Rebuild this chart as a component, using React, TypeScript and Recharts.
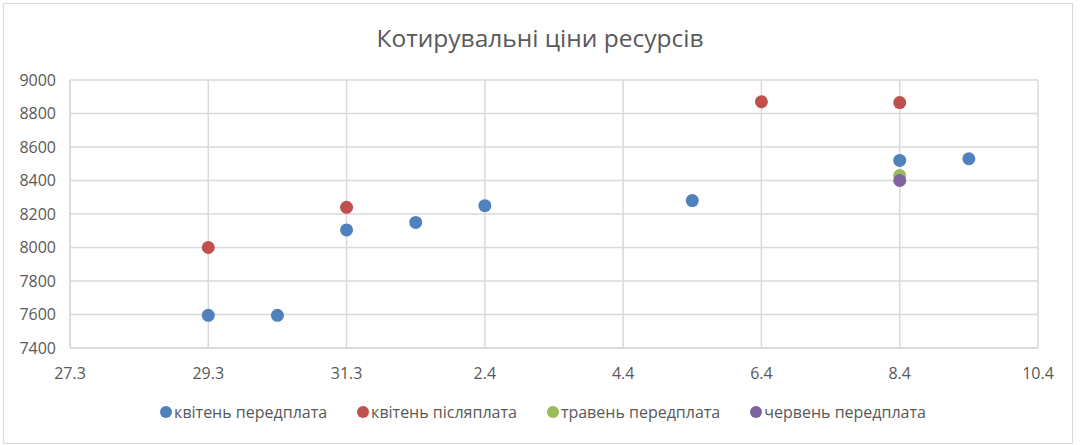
import { ScatterChart, Scatter, XAxis, YAxis, CartesianGrid, Legend } from 'recharts'

// x positions are days from 27.3 (0 = 27.3, 2 = 29.3, ...)
const xTickLabels = ['27.3', '29.3', '31.3', '2.4', '4.4', '6.4', '8.4', '10.4']
const xTicks = [0, 2, 4, 6, 8, 10, 12, 14]
const yTicks = [7400, 7600, 7800, 8000, 8200, 8400, 8600, 8800, 9000]

const aprPrepaid = [
  { x: 2, y: 7595 },
  { x: 3, y: 7595 },
  { x: 4, y: 8105 },
  { x: 5, y: 8150 },
  { x: 6, y: 8250 },
  { x: 9, y: 8280 },
  { x: 12, y: 8520 },
  { x: 13, y: 8530 },
]
const aprPostpaid = [
  { x: 2, y: 8000 },
  { x: 4, y: 8240 },
  { x: 10, y: 8870 },
  { x: 12, y: 8865 },
]
const mayPrepaid = [{ x: 12, y: 8430 }]
const junPrepaid = [{ x: 12, y: 8400 }]

const grid = '#d9d9d9'
const text = '#595959'
const font = '"Open Sans", "Segoe UI", sans-serif'

const Dot = (props: any) => <circle cx={props.cx} cy={props.cy} r={6.5} fill={props.fill} />

function LegendContent({ payload }: any) {
  return (
    <div style={{ height: 24, display: 'flex', justifyContent: 'center', alignItems: 'center' }}>
      {(payload || []).map((p: any, i: number) => (
        <div
          key={p.value}
          style={{ display: 'flex', alignItems: 'center', marginLeft: i === 0 ? 0 : 30, fontSize: 16, color: text }}
        >
          <span
            style={{ width: 12, height: 12, borderRadius: 6, background: p.color, display: 'inline-block', marginRight: 2 }}
          />
          {p.value}
        </div>
      ))}
    </div>
  )
}

export default function App() {
  return (
    <div style={{ position: 'absolute', left: 0, top: 0, width: 1080, height: 445, background: '#fff', fontFamily: font }}>
      <div
        style={{
          position: 'absolute',
          left: 3,
          top: 3,
          width: 1068,
          height: 439,
          border: `1px solid ${grid}`,
        }}
      />
      <div
        style={{
          position: 'absolute',
          top: 21,
          left: 0,
          width: 1080,
          textAlign: 'center',
          fontSize: 24.5,
          color: text,
        }}
      >
        Котирувальні ціни ресурсів
      </div>
      <ScatterChart width={1080} height={445} margin={{ top: 80, right: 42, left: 10, bottom: 21 }}>
        <CartesianGrid stroke={grid} strokeWidth={1.5} />
        <XAxis
          type="number"
          dataKey="x"
          domain={[0, 14]}
          ticks={xTicks}
          tickFormatter={(v: number) => xTickLabels[xTicks.indexOf(v)]}
          height={52}
          axisLine={{ stroke: grid, strokeWidth: 1.5 }}
          tickLine={false}
          tick={{ fill: text, fontSize: 16, dy: 12 }}
          interval={0}
        />
        <YAxis
          type="number"
          dataKey="y"
          domain={[7400, 9000]}
          ticks={yTicks}
          width={60}
          axisLine={{ stroke: grid, strokeWidth: 1.5 }}
          tickLine={false}
          tick={{ fill: text, fontSize: 16, dx: -6 }}
          interval={0}
        />
        <Legend verticalAlign="bottom" content={LegendContent} wrapperStyle={{ left: 0, width: 1086 }} />
        <Scatter name="квітень передплата" data={aprPrepaid} fill="#4f81bd" shape={Dot} isAnimationActive={false} />
        <Scatter name="квітень післяплата" data={aprPostpaid} fill="#c0504d" shape={Dot} isAnimationActive={false} />
        <Scatter name="травень передплата" data={mayPrepaid} fill="#9bbb59" shape={Dot} isAnimationActive={false} />
        <Scatter name="червень передплата" data={junPrepaid} fill="#8064a2" shape={Dot} isAnimationActive={false} />
      </ScatterChart>
    </div>
  )
}
